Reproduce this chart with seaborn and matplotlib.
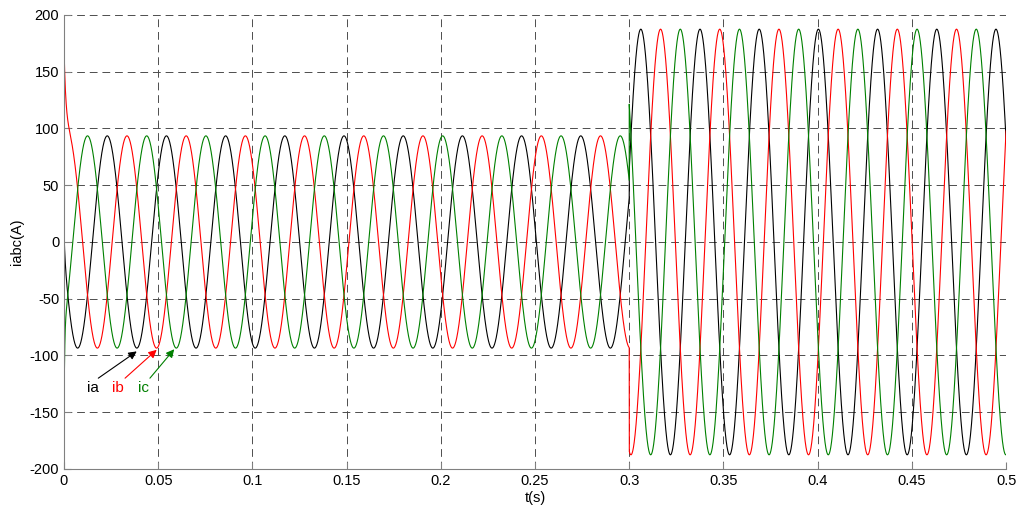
import numpy as np
import pandas as pd
import seaborn as sns
import matplotlib
matplotlib.use('Agg')
import matplotlib.pyplot as plt

# # Data
phases = ['ia', 'ib', 'ic']
colors = ['black', 'red', '#008000']
omega = 200.0                      # rad/s
t_step = 0.3                       # load step (s)
t_end = 0.5
amp_before = [93.5, 93.5, 93.5]    # A
amp_after = [187.5, 187.5, 187.5]  # A
phase_before = [97.0, -23.0, 217.0]   # deg
phase_after = [91.9, -28.1, 211.9]    # deg
# start-up transient: initial offset (A) and decay time (s)
start_offset = [21.0, 85.0, -83.0]
start_tau = [0.0005, 0.0011, 0.00032]

# labels / arrows for the legend-like annotations (t, A)
label_pos = [(0.0152, -129), (0.0288, -129), (0.0421, -129)]
arrow_tail = [(0.0182, -120), (0.0324, -120), (0.0456, -120)]
arrow_tip = [(0.0386, -96.4), (0.0492, -95.0), (0.0585, -94.5)]

xticks = np.round(np.arange(0, 0.501, 0.05), 2)
yticks = np.arange(-200, 201, 50)

# # Build the waveforms
t = np.arange(0, t_end + 1e-9, 2e-5)
frames = []
for i, name in enumerate(phases):
    before = amp_before[i] * np.cos(omega * t + np.deg2rad(phase_before[i]))
    after = amp_after[i] * np.cos(omega * t + np.deg2rad(phase_after[i]))
    y = np.where(t < t_step, before, after)
    y = y + start_offset[i] * np.exp(-t / start_tau[i])
    frames.append(pd.DataFrame({'t': t, 'i': y, 'phase': name}))
df = pd.concat(frames, ignore_index=True)

# # Plot
plt.rcParams['font.family'] = ['Liberation Sans', 'DejaVu Sans']
fig = plt.figure(figsize=(10.24, 5.13), dpi=100)
ax = fig.add_axes([0.0625, 0.0858, 0.92, 0.885])

sns.lineplot(data=df, x='t', y='i', hue='phase', palette=dict(zip(phases, colors)),
             estimator=None, sort=False, linewidth=0.8, legend=False, ax=ax)

ax.set_xlim(0, t_end)
ax.set_ylim(-200, 200)
ax.set_xticks(xticks)
ax.set_xticklabels(['%g' % v for v in xticks])
ax.set_yticks(yticks)
ax.set_yticklabels(['%g' % v for v in yticks])
ax.grid(True, color='0.3', linestyle=(0, (8, 5)), linewidth=0.7)
ax.set_axisbelow(True)
for s in ['top', 'right']:
    ax.spines[s].set_visible(False)
for s in ['left', 'bottom']:
    ax.spines[s].set_color('0.5')
ax.tick_params(direction='in', length=5, color='0.5', labelsize=10.5, labelcolor='black')
ax.set_xlabel('t(s)', fontsize=10.5, labelpad=2)
ax.set_ylabel('iabc(A)', fontsize=10.5, labelpad=4)

for i, name in enumerate(phases):
    ax.text(label_pos[i][0], label_pos[i][1], name, color=colors[i], fontsize=11,
            ha='center', va='center')
    ax.annotate('', xy=arrow_tip[i], xytext=arrow_tail[i],
                arrowprops=dict(arrowstyle='-|>', color=colors[i], lw=0.8,
                                mutation_scale=12, shrinkA=0, shrinkB=0))

plt.savefig('out.png', dpi=100)
